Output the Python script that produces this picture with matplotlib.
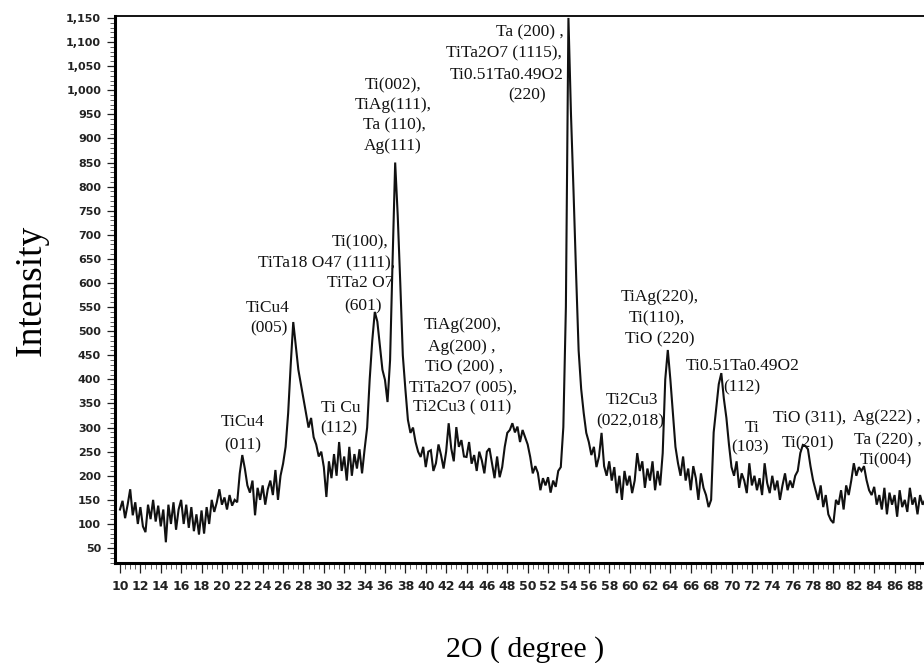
import numpy as np
import matplotlib
matplotlib.use("Agg")
import matplotlib.pyplot as plt
from matplotlib.ticker import MultipleLocator, FuncFormatter

# ---------------- data ----------------
two_theta = np.arange(10.0, 89.001, 0.25)

intensity = [
    # 10 - 11.75
    130, 148, 112, 140, 172, 118, 145, 100,
    # 12 - 13.75
    135, 95, 83, 140, 110, 150, 105, 138,
    # 14 - 15.75
    95, 130, 62, 140, 100, 145, 88, 130,
    # 16 - 17.75
    150, 100, 140, 92, 135, 85, 120, 78,
    # 18 - 19.75
    128, 80, 135, 100, 150, 125, 145, 172,
    # 20 - 21.75
    140, 155, 130, 160, 138, 150, 145, 205,
    # 22 - 23.75
    243, 215, 180, 165, 190, 118, 175, 150,
    # 24 - 25.75
    180, 140, 172, 190, 160, 212, 150, 200,
    # 26 - 27.75
    225, 260, 330, 430, 519, 470, 420, 390,
    # 28 - 29.75
    360, 330, 300, 320, 280, 265, 240, 250,
    # 30 - 31.75
    218, 156, 230, 195, 245, 200, 270, 210,
    # 32 - 33.75
    240, 190, 260, 200, 245, 215, 255, 205,
    # 34 - 35.75
    255, 300, 400, 480, 540, 520, 470, 420,
    # 36 - 37.75
    399, 353, 440, 650, 850, 740, 600, 450,
    # 38 - 39.75
    380, 316, 289, 300, 270, 250, 239, 260,
    # 40 - 41.75
    218, 250, 253, 210, 226, 265, 243, 215,
    # 42 - 43.75
    250, 309, 257, 230, 301, 260, 274, 240,
    # 44 - 45.75
    239, 270, 225, 243, 210, 250, 232, 205,
    # 46 - 47.75
    250, 257, 226, 195, 240, 197, 218, 260,
    # 48 - 49.75
    289, 295, 309, 290, 302, 270, 295, 280,
    # 50 - 51.75
    265, 239, 205, 220, 206, 170, 195, 180,
    # 52 - 53.75
    197, 165, 190, 177, 210, 218, 301, 550,
    # 54 - 55.75
    1150, 950, 790, 620, 460, 380, 330, 289,
    # 56 - 57.75
    270, 243, 260, 218, 240, 289, 220, 200,
    # 58 - 59.75
    230, 190, 218, 164, 200, 150, 210, 180,
    # 60 - 61.75
    200, 164, 190, 247, 210, 230, 175, 215,
    # 62 - 63.75
    190, 230, 170, 210, 180, 247, 400, 461,
    # 64 - 65.75
    400, 330, 260, 226, 200, 240, 190, 215,
    # 66 - 67.75
    170, 220, 195, 150, 205, 175, 160, 135,
    # 68 - 69.75
    150, 290, 340, 390, 413, 360, 320, 265,
    # 70 - 71.75
    218, 200, 230, 175, 205, 190, 164, 226,
    # 72 - 73.75
    180, 200, 170, 195, 160, 226, 185, 164,
    # 74 - 75.75
    200, 170, 190, 150, 180, 205, 170, 190,
    # 76 - 77.75
    175, 200, 210, 247, 264, 262, 255, 220,
    # 78 - 79.75
    191, 170, 150, 180, 135, 160, 120, 108,
    # 80 - 81.75
    102, 150, 140, 170, 130, 180, 160, 190,
    # 82 - 83.75
    226, 200, 218, 210, 220, 191, 170, 160,
    # 84 - 85.75
    177, 140, 160, 130, 175, 120, 165, 140,
    # 86 - 87.75
    160, 115, 170, 135, 150, 125, 175, 140,
    # 88 - 89
    155, 120, 160, 140, 150,
]

x_tick_values = list(range(10, 89, 2))
y_tick_values = list(range(50, 1151, 50))

x_label = "2O ( degree )"
y_label = "Intensity"

peak_labels = [
    ("TiCu4", 22.07, 311), ("(011)", 22.07, 264),
    ("TiCu4", 24.52, 548), ("(005)", 24.62, 505),
    ("Ti Cu", 31.68, 341), ("(112)", 31.49, 299),
    ("Ti(100),", 33.55, 685), ("TiTa18 O47 (1111),", 30.31, 641),
    ("TiTa2 O7", 33.55, 600), ("(601)", 33.84, 552),
    ("Ti(002),", 36.79, 1011), ("TiAg(111),", 36.79, 969),
    ("Ta (110),", 36.88, 928), ("Ag(111)", 36.79, 884),
    ("Ta (200) ,", 50.23, 1119), ("TiTa2O7 (1115),", 47.68, 1077),
    ("Ti0.51Ta0.49O2", 47.97, 1032), ("(220)", 49.93, 990),
    ("TiAg(200),", 43.65, 513), ("Ag(200) ,", 43.56, 467),
    ("TiO (200) ,", 43.75, 424), ("TiTa2O7 (005),", 43.65, 382),
    ("Ti2Cu3 ( 011)", 43.56, 341),
    ("TiAg(220),", 62.98, 571), ("Ti(110),", 62.69, 527), ("TiO (220)", 62.98, 482),
    ("Ti2Cu3", 60.23, 357), ("(022,018)", 60.04, 312),
    ("Ti0.51Ta0.49O2", 71.13, 428), ("(112)", 71.03, 384),
    ("Ti", 72.01, 299), ("(103)", 71.81, 258),
    ("TiO (311),", 77.70, 320), ("Ti(201)", 77.50, 268),
    ("Ag(222) ,", 85.25, 322), ("Ta (220) ,", 85.35, 274), ("Ti(004)", 85.16, 231),
]

# ---------------- figure ----------------
W, H = 924, 663
fig = plt.figure(figsize=(W / 100, H / 100), dpi=100)
fig.patch.set_facecolor("white")

left_px, right_px, top_px, bottom_px = 115, 928, 16, 563
ax = fig.add_axes([left_px / W, 1 - bottom_px / H,
                   (right_px - left_px) / W, (bottom_px - top_px) / H])

ax.plot(two_theta, intensity, color="#111111", lw=1.5, solid_joinstyle="miter")

ax.set_xlim(9.51, 89.28)
ax.set_ylim(19, 1154)

ax.set_xticks(x_tick_values)
ax.set_yticks(y_tick_values)
ax.xaxis.set_minor_locator(MultipleLocator(0.5))
ax.yaxis.set_minor_locator(MultipleLocator(10))
ax.yaxis.set_major_formatter(FuncFormatter(lambda v, p: f"{int(v):,}"))

ax.tick_params(axis="x", which="major", direction="out", length=7, width=0.9,
               pad=5, labelsize=9, colors="#222222")
ax.tick_params(axis="x", which="minor", direction="out", length=4.5, width=0.6,
               colors="#444444")
ax.tick_params(axis="y", which="major", direction="out", length=6, width=0.9,
               pad=4, labelsize=8, colors="#222222")
ax.tick_params(axis="y", which="minor", direction="out", length=3.5, width=0.6,
               colors="#444444")
for lab in ax.get_xticklabels() + ax.get_yticklabels():
    lab.set_fontfamily("DejaVu Sans")
    lab.set_fontweight("bold")

ax.spines["left"].set_linewidth(2.2)
ax.spines["bottom"].set_linewidth(2.2)
ax.spines["top"].set_linewidth(1.3)
ax.spines["right"].set_visible(False)

ax.set_xlabel(x_label, fontfamily="Liberation Serif", fontsize=21.5, va="top")
ax.xaxis.set_label_coords((525 - left_px) / (right_px - left_px),
                          -(636 - bottom_px) / (bottom_px - top_px))
ax.set_ylabel(y_label, fontfamily="Liberation Serif", fontsize=27, va="center")
ax.yaxis.set_label_coords(-(left_px - 31) / (right_px - left_px),
                          (bottom_px - 290) / (bottom_px - top_px))

for txt, xx, yy in peak_labels:
    ax.text(xx, yy, txt, ha="center", va="center", fontsize=12.5,
            fontfamily="Liberation Serif", color="#111111", clip_on=False)

fig.savefig("out.png", dpi=100, facecolor="white")
